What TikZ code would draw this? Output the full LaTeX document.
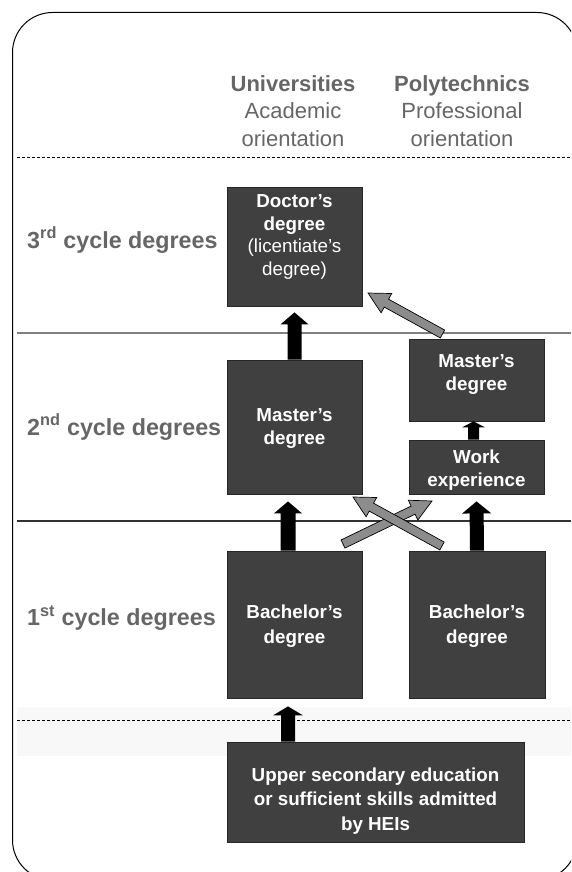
\documentclass[tikz,border=0pt]{standalone}
\usepackage{fontspec}
\setmainfont{Liberation Sans}
\usetikzlibrary{calc}
\definecolor{boxfill}{HTML}{404040}
\definecolor{headgray}{HTML}{666666}
\definecolor{arrgray}{HTML}{8C8C8C}
\definecolor{bandgray}{HTML}{F8F8F8}

\newcommand\blockarrow[6]{%
  \path[#6] let \p1=(#1), \p2=(#2), \n1={atan2(\y2-\y1,\x2-\x1)}, \n2={veclen(\x2-\x1,\y2-\y1)} in
  {[shift={(\p1)}, rotate=\n1] (0,-#3) -- ({\n2-#5},-#3) -- ({\n2-#5},-#4) -- (\n2,0) -- ({\n2-#5},#4) -- ({\n2-#5},#3) -- (0,#3) -- cycle};
}

\tikzset{
  box/.style={draw=black!85, fill=boxfill, line width=0.8pt, inner sep=0pt},
  boxtxt/.style={text=white, align=center, inner sep=0pt, font=\bfseries\fontsize{18.8}{#1}\selectfont},
  boxtxt/.default=22.7,
  headtxt/.style={text=headgray, align=center, inner sep=0pt, font=\fontsize{22}{27.5}\selectfont},
  lbl/.style={text=headgray, anchor=base west, inner sep=0pt, font=\bfseries\fontsize{23.3}{27}\selectfont},
  dashline/.style={draw=black, line width=0.9pt, dash pattern=on 3pt off 2pt},
  solidline/.style={line width=1.1pt},
  blackarrow/.style={fill=black},
  grayarrow/.style={fill=arrgray, draw=black, line width=0.7pt, line join=miter},
}

\begin{document}
\begin{tikzpicture}[x=1pt,y=-1pt]
\useasboundingbox (0,0) rectangle (571,872);
% frame
\begin{scope}
\clip (0,0) rectangle (571,872);
\fill[bandgray] (17,707) rectangle (571,756);
\draw[line width=1pt, rounded corners=40pt] (12.5,12.5) rectangle (577,880);
\end{scope}

% rules
\draw[dashline] (17,157) -- (571,157);
\draw[solidline, draw=black!50] (17,333) -- (571,333);
\draw[solidline, draw=black!80] (17,521) -- (571,521);
\draw[dashline] (17,720) -- (571,720);

% headers
\node[headtxt] (uni) at (293,111) {\textbf{Universities}\\Academic\\orientation};
\node[headtxt] (poly) at (462,111) {\textbf{Polytechnics}\\Professional\\orientation};

% left labels
\node[lbl] (c3) at (27,248) {3\textsuperscript{rd} cycle degrees};
\node[lbl] (c2) at (27,435) {2\textsuperscript{nd} cycle degrees};
\node[lbl] (c1) at (27,625.5) {1\textsuperscript{st} cycle degrees};

% boxes
\node[box, minimum width=135pt, minimum height=119pt] (doc) at (294.5,246.5) {};
\node[box, minimum width=135pt, minimum height=134pt] (mu) at (294.5,427) {};
\node[box, minimum width=135pt, minimum height=82pt] (mp) at (476.5,380) {};
\node[box, minimum width=135pt, minimum height=54pt] (we) at (476.5,467) {};
\node[box, minimum width=135pt, minimum height=147pt] (bu) at (294.5,624.5) {};
\node[box, minimum width=136pt, minimum height=147pt] (bp) at (477,624.5) {};
\node[box, minimum width=297pt, minimum height=100pt] (us) at (375.5,792) {};

\node[boxtxt] (doct) at (294.5,237) {Doctor’s\\degree\\\mdseries(licentiate’s\\\mdseries degree)};
\node[boxtxt] (mut) at (294.5,428.5) {Master’s\\degree};
\node[boxtxt] (mpt) at (476.5,374.5) {Master’s\\degree};
\node[boxtxt] (wet) at (476.5,470) {Work\\experience};
\node[boxtxt=25] (but) at (294.5,626.5) {Bachelor’s\\degree};
\node[boxtxt=25] (bpt) at (477,626.5) {Bachelor’s\\degree};
\node[boxtxt=24.8] (ust) at (375.5,801) {Upper secondary education\\or sufficient skills admitted\\by HEIs};

% black arrows
\coordinate (a1s) at ($(mu.north)+(0,0)$);
\coordinate (a1e) at ($(doc.south)+(0,6)$);
\coordinate (a2s) at ($(bu.north)+(-6.5,0)$);
\coordinate (a2e) at ($(mu.south)+(-6.5,7)$);
\coordinate (a3s) at ($(we.north)+(-3,0)$);
\coordinate (a3e) at ($(mp.south)+(-3,0)$);
\coordinate (a4s) at ($(bp.north)+(0,0)$);
\coordinate (a4e) at ($(we.south)+(0,7)$);
\coordinate (a5s) at ($(us.north)+(-87.5,0)$);
\coordinate (a5e) at ($(bu.south)+(-6.5,8)$);
\blockarrow{a1s}{a1e}{7}{14}{12}{blackarrow}
\blockarrow{a2s}{a2e}{7.5}{14}{12}{blackarrow}
\blockarrow{a3s}{a3e}{5.5}{11.5}{6}{blackarrow}
\blockarrow{a4s}{a4e}{7}{14.5}{12}{blackarrow}
\blockarrow{a5s}{a5e}{7}{15}{9}{blackarrow}

% gray arrows
\coordinate (g1s) at (442.5,334);
\coordinate (g1e) at (368,293);
\coordinate (g2s) at (343,544);
\coordinate (g2e) at (432,501);
\coordinate (g3s) at (442,546);
\coordinate (g3e) at (353,497);
\blockarrow{g1s}{g1e}{4.5}{11}{21}{grayarrow}
\blockarrow{g2s}{g2e}{4.5}{11}{21}{grayarrow}
\blockarrow{g3s}{g3e}{4.5}{11}{21}{grayarrow}
\end{tikzpicture}
\end{document}
